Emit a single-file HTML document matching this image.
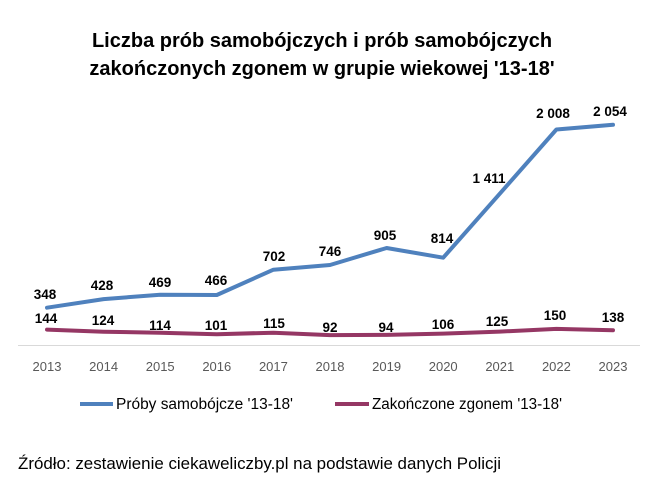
<!DOCTYPE html>
<html><head><meta charset="utf-8"><style>
body{margin:0;background:#fff;width:661px;height:486px;overflow:hidden}
svg text{font-family:"Liberation Sans",sans-serif}
</style></head><body>
<svg width="661" height="486" xmlns="http://www.w3.org/2000/svg">
<text x="322" y="47" text-anchor="middle" font-size="20" font-weight="bold" fill="#000">Liczba prób samobójczych i prób samobójczych</text>
<text x="322" y="75" text-anchor="middle" font-size="20" font-weight="bold" fill="#000">zakończonych zgonem w grupie wiekowej '13-18'</text>
<line x1="18" y1="345.5" x2="640" y2="345.5" stroke="#d9d9d9" stroke-width="1"/>
<g font-size="13" fill="#595959" text-anchor="middle">
<text x="47" y="371">2013</text><text x="103.6" y="371">2014</text><text x="160.2" y="371">2015</text><text x="216.8" y="371">2016</text><text x="273.4" y="371">2017</text><text x="330" y="371">2018</text><text x="386.6" y="371">2019</text><text x="443.2" y="371">2020</text><text x="499.8" y="371">2021</text><text x="556.4" y="371">2022</text><text x="613" y="371">2023</text>
</g>
<polyline fill="none" stroke="#4f81bd" stroke-width="4" stroke-linejoin="round" stroke-linecap="round" points="47,307.7 103.6,299.1 160.2,294.7 216.8,295 273.4,269.7 330,265 386.6,248 443.2,257.7 499.8,193.7 556.4,129.5 613,124.8"/>
<polyline fill="none" stroke="#953764" stroke-width="4" stroke-linejoin="round" stroke-linecap="round" points="47,329.6 103.6,331.7 160.2,332.8 216.8,334.2 273.4,332.7 330,335.1 386.6,334.9 443.2,333.6 499.8,331.6 556.4,328.9 613,330.2"/>
<g font-size="13.5" font-weight="bold" fill="#000" text-anchor="middle">
<text x="45" y="299">348</text><text x="102" y="290">428</text><text x="160" y="287">469</text><text x="216" y="285">466</text><text x="274" y="261">702</text><text x="330" y="256">746</text><text x="385" y="240">905</text><text x="442" y="243">814</text><text x="489" y="183">1 411</text><text x="553" y="118">2 008</text><text x="610" y="116">2 054</text>
<text x="46" y="323">144</text><text x="103" y="325">124</text><text x="160" y="330">114</text><text x="216" y="330">101</text><text x="274" y="328">115</text><text x="330" y="332">92</text><text x="386" y="332">94</text><text x="443" y="329">106</text><text x="497" y="326">125</text><text x="555" y="320">150</text><text x="613" y="322">138</text>
</g>
<line x1="80" y1="404" x2="113" y2="404" stroke="#4f81bd" stroke-width="4"/>
<text x="116" y="409" font-size="15.5" fill="#000" textLength="177" lengthAdjust="spacingAndGlyphs">Próby samobójcze '13-18'</text>
<line x1="335" y1="404" x2="369" y2="404" stroke="#953764" stroke-width="4"/>
<text x="372" y="409" font-size="15.5" fill="#000" textLength="190" lengthAdjust="spacingAndGlyphs">Zakończone zgonem '13-18'</text>
<text x="18" y="469" font-size="16.5" fill="#000" textLength="483" lengthAdjust="spacingAndGlyphs">Źródło: zestawienie ciekaweliczby.pl na podstawie danych Policji</text>
</svg>
</body></html>
